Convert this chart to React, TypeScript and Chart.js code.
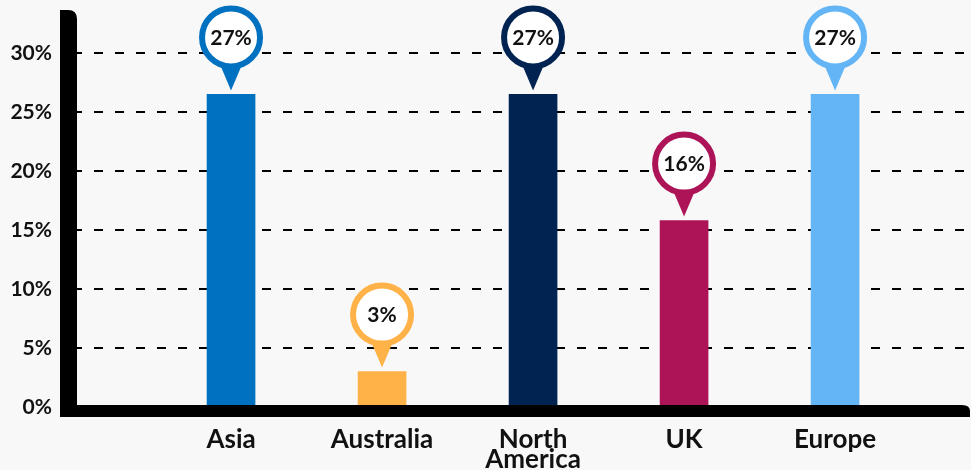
import React, { useEffect, useRef } from "react";
import { Chart, registerables } from "chart.js";

Chart.register(...registerables);

const categories = ["Asia", "Australia", "North America", "UK", "Europe"];
const shares = [26.5, 3.0, 26.5, 15.8, 26.5];
const shareLabels = ["27%", "3%", "27%", "16%", "27%"];
const barColors = ["#0070C0", "#FFB247", "#002352", "#AD1457", "#64B5F6"];
const yTicks = [0, 5, 10, 15, 20, 25, 30];

const FONT = "Lato, 'Open Sans', sans-serif";

const axesPlugin = {
  id: "thickAxes",
  afterDatasetsDraw(chart: any) {
    const { ctx, chartArea } = chart;
    const left = chartArea.left;
    const bottom = chartArea.bottom;
    ctx.save();
    ctx.fillStyle = "#000";
    const vx0 = left - 17;
    const vtop = 10;
    const r = 9;
    ctx.beginPath();
    ctx.moveTo(vx0, bottom + 10);
    ctx.lineTo(vx0, vtop);
    ctx.lineTo(left - r, vtop);
    ctx.quadraticCurveTo(left, vtop, left, vtop + r);
    ctx.lineTo(left, bottom + 10);
    ctx.closePath();
    ctx.fill();
    const hy0 = bottom - 2;
    const hy1 = bottom + 10;
    const right = chart.width - 1;
    ctx.beginPath();
    ctx.moveTo(vx0, hy0);
    ctx.lineTo(right - 8, hy0);
    ctx.quadraticCurveTo(right, hy0, right, hy0 + 6);
    ctx.lineTo(right, hy1);
    ctx.lineTo(vx0, hy1);
    ctx.closePath();
    ctx.fill();
    ctx.restore();
  },
};

const bubblePlugin = {
  id: "bubbles",
  afterDatasetsDraw(chart: any) {
    const { ctx } = chart;
    const meta = chart.getDatasetMeta(0);
    ctx.save();
    meta.data.forEach((el: any, i: number) => {
      const x = el.x;
      const top = el.y;
      const cy = top - 57;
      const R = 29;
      const color = barColors[i];
      ctx.fillStyle = color;
      ctx.beginPath();
      ctx.moveTo(x - 11, cy + R - 2);
      ctx.lineTo(x + 11, cy + R - 2);
      ctx.lineTo(x, top - 4);
      ctx.closePath();
      ctx.fill();
      ctx.beginPath();
      ctx.arc(x, cy, R, 0, Math.PI * 2);
      ctx.fillStyle = "#fff";
      ctx.fill();
      ctx.lineWidth = 6;
      ctx.strokeStyle = color;
      ctx.stroke();
      ctx.fillStyle = "#111";
      ctx.font = `bold 21px ${FONT}`;
      ctx.textAlign = "center";
      ctx.textBaseline = "middle";
      ctx.fillText(shareLabels[i], x, cy + 1);
    });
    ctx.restore();
  },
};

export default function App() {
  const ref = useRef<HTMLCanvasElement | null>(null);

  useEffect(() => {
    if (!ref.current) return;
    const chart = new Chart(ref.current, {
      type: "bar",
      data: {
        datasets: [
          {
            data: categories.map((c, i) => ({ x: i + 1, y: shares[i] })),
            backgroundColor: barColors,
            barThickness: 48,
          },
        ],
      },
      options: {
        animation: false,
        responsive: true,
        maintainAspectRatio: false,
        layout: { padding: 0 },
        plugins: { legend: { display: false }, tooltip: { enabled: false } },
        scales: {
          x: {
            type: "linear",
            offset: false,
            min: -0.02,
            max: 5.9,
            afterBuildTicks: (scale: any) => {
              scale.ticks = categories.map((_, i) => ({ value: i + 1 }));
            },
            afterFit: (scale: any) => {
              scale.height = 63;
              scale.paddingLeft = 0;
              scale.paddingRight = 0;
              scale.paddingTop = 0;
              scale.paddingBottom = 0;
            },
            grid: { display: false, drawTicks: false },
            border: { display: false },
            ticks: {
              autoSkip: false,
              maxRotation: 0,
              padding: 23,
              color: "#111",
              font: { family: FONT, size: 26, weight: "bold", lineHeight: 0.75 },
              callback: (v: any) => {
                const c = categories[Math.round(Number(v)) - 1];
                if (!c) return "";
                return c.includes(" ") ? c.split(" ") : c;
              },
            },
          },
          y: {
            min: 0,
            max: 34.5,
            afterBuildTicks: (scale: any) => {
              scale.ticks = yTicks.map((v) => ({ value: v }));
            },
            afterFit: (scale: any) => {
              scale.width = 77;
              scale.paddingLeft = 0;
              scale.paddingRight = 0;
              scale.paddingTop = 0;
              scale.paddingBottom = 0;
            },
            grid: {
              color: "#000",
              lineWidth: 2,
              drawTicks: false,
            },
            border: { display: false, dash: [9, 12], dashOffset: 4 },
            ticks: {
              padding: 25,
              color: "#111",
              font: { family: FONT, size: 21, weight: "bold" },
              callback: (v: any) => `${v}%`,
            },
          },
        },
      },
      plugins: [axesPlugin, bubblePlugin],
    } as any);
    return () => chart.destroy();
  }, []);

  return (
    <div
      style={{
        position: "fixed",
        left: 0,
        top: 0,
        width: 971,
        height: 470,
        background: "#f8f8f8",
      }}
    >
      <canvas ref={ref} />
    </div>
  );
}
